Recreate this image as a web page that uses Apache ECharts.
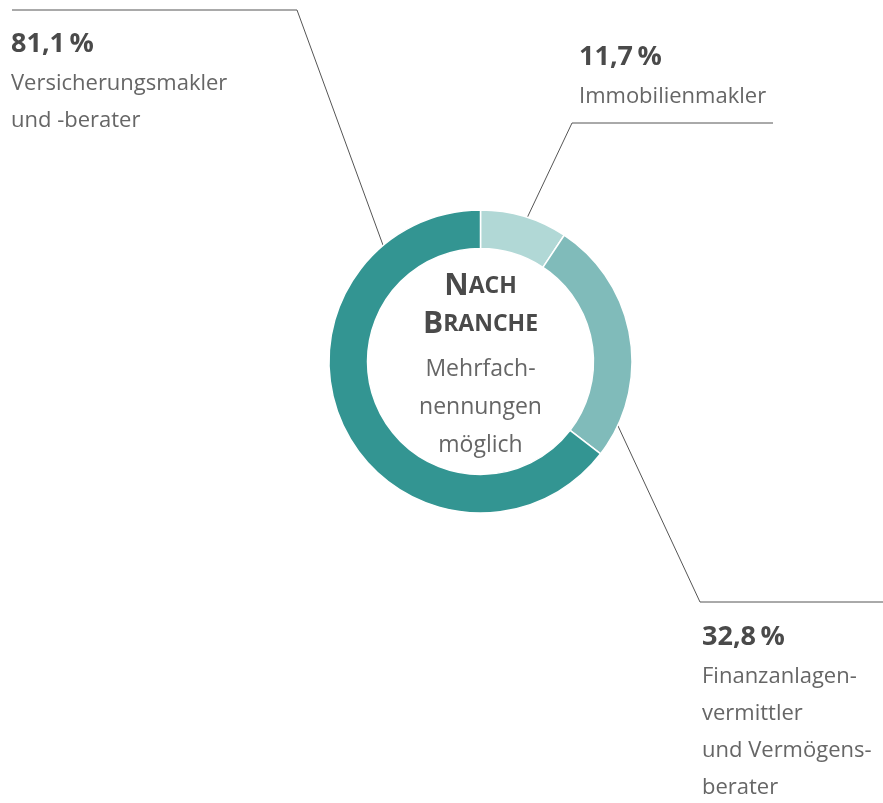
<!DOCTYPE html>
<html>
<head>
<meta charset="utf-8">
<script src="https://cdn.jsdelivr.net/npm/echarts@6/dist/echarts.min.js"></script>
<style>
    html, body { margin: 0; padding: 0; background: #fff; }
    #chart { width: 883px; height: 803px; }
</style>
</head>
<body>
<div id="chart"></div>
<script>
// Daten
const categories = ['Immobilienmakler', 'Finanzanlagenvermittler und Vermögensberater', 'Versicherungsmakler und -berater']
const values = [11.7, 32.8, 81.1]
const percentLabels = ['11,7\u2009%', '32,8\u2009%', '81,1\u2009%']
const labelLines = [
    ['Immobilienmakler'],
    ['Finanzanlagen-', 'vermittler', 'und Vermögens-', 'berater'],
    ['Versicherungsmakler', 'und -berater']
]
const colors = ['#b1d8d6', '#80bbba', '#339592']

// Layout der Beschriftungen (Winkel im Uhrzeigersinn ab 12 Uhr)
const center = [480.5, 361.5]
const radius = [113, 151.5]
const labelPos = [
    { angle: 18, elbow: [572, 123], end: [773, 123], x: 579, y: 36 },
    { angle: 115, elbow: [700, 602], end: [883, 602], x: 702, y: 616 },
    { angle: 320, elbow: [297, 10], end: [12, 10], x: 11, y: 23 }
]

const chart = echarts.init(document.getElementById('chart'))

const pieData = categories.map((name, i) => ({
    name: name,
    value: values[i],
    itemStyle: { color: colors[i] },
    label: {
        formatter: '{p|' + percentLabels[i] + '}\n' + labelLines[i].map(t => '{t|' + t + '}').join('\n')
    }
}))

chart.setOption({
    animation: false,
    series: [
        {
            type: 'pie',
            center: center,
            radius: radius,
            startAngle: 90,
            clockwise: true,
            data: pieData,
            itemStyle: { borderColor: '#fff', borderWidth: 1.5 },
            emphasis: { disabled: true },
            label: {
                show: true,
                position: 'outside',
                align: 'left',
                rich: {
                    p: { fontFamily: 'Open Sans', fontWeight: 'bold', fontSize: 27, color: '#4a4a4a', lineHeight: 42 },
                    t: { fontFamily: 'Open Sans', fontSize: 22, color: '#666', lineHeight: 37 }
                }
            },
            labelLine: {
                show: true,
                lineStyle: { color: '#555', width: 1 }
            },
            labelLayout: function (params) {
                const p = labelPos[params.dataIndex]
                const a = p.angle * Math.PI / 180
                const start = [center[0] + radius[1] * Math.sin(a), center[1] - radius[1] * Math.cos(a)]
                return {
                    x: p.x,
                    y: p.y,
                    align: 'left',
                    verticalAlign: 'top',
                    labelLinePoints: [start, p.elbow, p.end]
                }
            }
        }
    ],
    graphic: [
        {
            type: 'text',
            x: center[0],
            y: 267,
            style: {
                text: '{b|N}{s|ACH}\n{b|B}{s|RANCHE}',
                align: 'center',
                verticalAlign: 'top',
                rich: {
                    b: { fontFamily: 'Open Sans', fontWeight: 'bold', fontSize: 30, fill: '#4a4a4a', lineHeight: 38 },
                    s: { fontFamily: 'Open Sans', fontWeight: 'bold', fontSize: 23, fill: '#4a4a4a', lineHeight: 38 }
                }
            }
        },
        {
            type: 'text',
            x: center[0],
            y: 350,
            style: {
                text: 'Mehrfach-\nnennungen\nmöglich',
                align: 'center',
                verticalAlign: 'top',
                fontFamily: 'Open Sans',
                fontSize: 23,
                lineHeight: 38,
                fill: '#666'
            }
        }
    ]
})
</script>
</body>
</html>
